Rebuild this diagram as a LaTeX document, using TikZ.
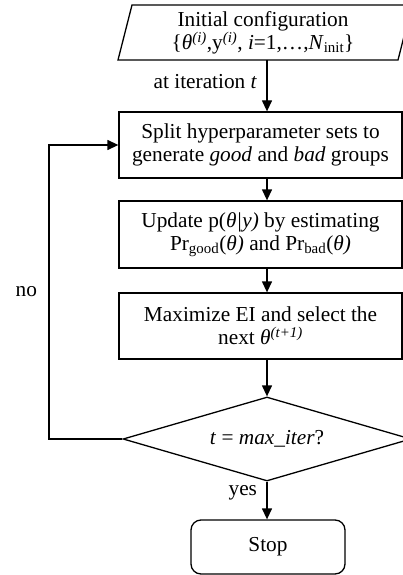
\documentclass[tikz,border=0pt]{standalone}
\usepackage{fontspec}
\setmainfont{Liberation Serif}
\usetikzlibrary{arrows.meta,shapes.geometric}
\begin{document}
\begin{tikzpicture}[x=1pt,y=-1pt, line width=1.3pt,
  every node/.style={font=\fontsize{21.3}{23.3}\selectfont},
  box/.style={draw, rectangle, minimum width=283pt, minimum height=66pt, align=center, inner sep=0pt},
  arr/.style={-{Triangle[length=11pt,width=10pt]}}]
\useasboundingbox (0,0) rectangle (403,575);
\coordinate (ax) at (267,0);
\draw (132,5) -- (412,5) -- (398,60) -- (118,60) -- cycle;
\node[align=center] (init) at (263,33) {Initial configuration\\\{\textit{θ}\textsuperscript{\textit{(i)}},y\textsuperscript{\textit{(i)}}, \textit{i}=1,…,\textit{N}\textsubscript{init}\}};
\coordinate (initb) at (267,60);
\node[box] (split) at (260.5,145) {Split hyperparameter sets to\\generate \textit{good} and \textit{bad} groups};
\node[box, minimum height=67pt] (update) at (260.5,234.5) {Update p(\textit{θ|y)} by estimating\\Pr\textsubscript{good}(\textit{θ)} and Pr\textsubscript{bad}(\textit{θ)}};
\node[box] (max) at (260.5,326) {Maximize EI and select the\\next \textit{θ}\textsuperscript{\textit{(t+1)}}};
\node[diamond, draw, aspect=3.43, minimum width=288pt, minimum height=84pt, inner sep=0pt] (dec) at (267,439) {\textit{t} = \textit{max\_iter}?};
\node[draw, rounded corners=10pt, minimum width=154pt, minimum height=54pt] (stop) at (268,547) {Stop};
\coordinate (lp) at (49,145);
\draw[arr] (initb) -- node[left=6pt, pos=0.42] {at iteration \textit{t}} (split.north -| initb);
\draw[arr] (split.south -| ax) -- (update.north -| ax);
\draw[arr] (update.south -| ax) -- (max.north -| ax);
\draw[arr] (max.south -| ax) -- (dec.north);
\draw[arr] (dec.south) -- node[left=6pt, pos=0.3] {yes} (stop.north -| dec.south);
\draw[arr] (dec.west) -| node[pos=0.75, left=8pt] {no} (lp) -- (split.west);
\end{tikzpicture}
\end{document}
